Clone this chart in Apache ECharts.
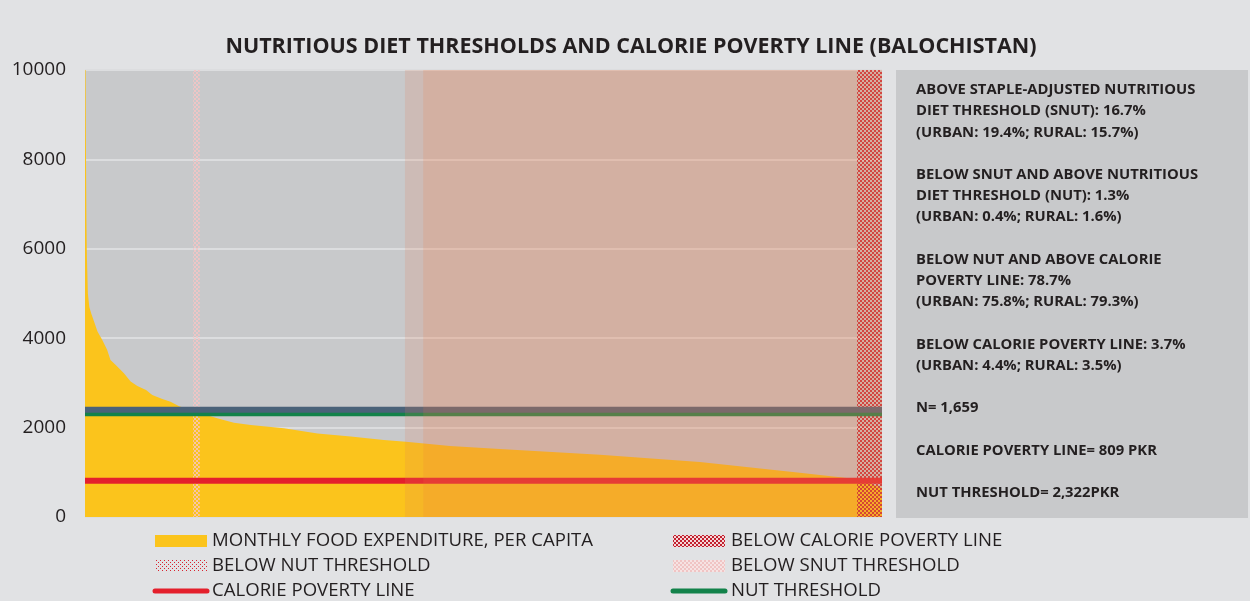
<!DOCTYPE html>
<html>
<head>
<meta charset="utf-8">
<script src="https://cdn.jsdelivr.net/npm/echarts@6/dist/echarts.min.js"></script>
<style>
  html, body { margin: 0; padding: 0; background: #e1e2e4; }
  #chart { width: 1250px; height: 601px; }
</style>
</head>
<body>
<div id="chart"></div>
<script>
// Households ranked by monthly food expenditure per capita (PKR), highest first
const householdRank = [0, 1, 2, 3, 4, 6, 9, 13, 19, 26, 36, 46, 53, 64, 81, 95, 109, 127, 140, 161, 178, 196, 230, 275, 310, 345, 414, 484, 553, 622, 668, 760, 864, 1072, 1280, 1488, 1530, 1572, 1603, 1612, 1630, 1659];
const foodExpenditure = [13000, 10500, 8200, 6600, 5800, 5000, 4700, 4550, 4370, 4150, 3960, 3740, 3510, 3400, 3215, 3030, 2930, 2840, 2730, 2640, 2580, 2480, 2360, 2210, 2110, 2060, 1985, 1870, 1800, 1720, 1685, 1590, 1520, 1390, 1230, 990, 940, 890, 850, 800, 760, 650];

const sampleSize = 1659;
const yTicks = [0, 2000, 4000, 6000, 8000, 10000];

// Thresholds (PKR per capita per month)
const caloriePovertyLine = 809;
const nutThreshold = 2322;
const snutThreshold = 2400;

// Household rank ranges for shaded groups
const belowSnutBand = [225, 239];
const belowNutBandOuter = [666, 1659];
const belowNutBandInner = [704, 1659];
const belowCalorieBand = [1607, 1659];

const infoText = [
  'ABOVE STAPLE-ADJUSTED NUTRITIOUS',
  'DIET THRESHOLD (SNUT): 16.7%',
  '(URBAN: 19.4%; RURAL: 15.7%)',
  '',
  'BELOW SNUT AND ABOVE NUTRITIOUS',
  'DIET THRESHOLD (NUT): 1.3%',
  '(URBAN: 0.4%; RURAL: 1.6%)',
  '',
  'BELOW NUT AND ABOVE CALORIE',
  'POVERTY LINE: 78.7%',
  '(URBAN: 75.8%; RURAL: 79.3%)',
  '',
  'BELOW CALORIE POVERTY LINE: 3.7%',
  '(URBAN: 4.4%; RURAL: 3.5%)',
  '',
  'N= 1,659',
  '',
  'CALORIE POVERTY LINE= 809 PKR',
  '',
  'NUT THRESHOLD= 2,322PKR'
];

const legendNames = [
  'MONTHLY FOOD EXPENDITURE, PER CAPITA',
  'BELOW NUT THRESHOLD',
  'CALORIE POVERTY LINE',
  'BELOW CALORIE POVERTY LINE',
  'BELOW SNUT THRESHOLD',
  'NUT THRESHOLD'
];

const FONT = '"Open Sans", sans-serif';
const INK = '#231f20';

// Small tiled canvases used as fill patterns
function makePattern(size, draw) {
  const c = document.createElement('canvas');
  c.width = size[0]; c.height = size[1];
  const ctx = c.getContext('2d');
  draw(ctx);
  return { image: c, repeat: 'repeat' };
}
const redChecker = makePattern([4, 4], ctx => {
  ctx.fillStyle = 'rgba(200,30,45,0.9)';
  ctx.fillRect(0, 0, 2, 2);
  ctx.fillRect(2, 2, 2, 2);
});
const redCheckerSolid = makePattern([4, 4], ctx => {
  ctx.fillStyle = '#f3d7d8';
  ctx.fillRect(0, 0, 4, 4);
  ctx.fillStyle = '#c2202f';
  ctx.fillRect(0, 0, 2, 2);
  ctx.fillRect(2, 2, 2, 2);
});
const pinkChecker = makePattern([4, 4], ctx => {
  ctx.fillStyle = 'rgba(246,196,196,0.85)';
  ctx.fillRect(0, 0, 2, 2);
  ctx.fillRect(2, 2, 2, 2);
});
const pinkCheckerSolid = makePattern([4, 4], ctx => {
  ctx.fillStyle = '#f6e3e3';
  ctx.fillRect(0, 0, 4, 4);
  ctx.fillStyle = '#f0c4c4';
  ctx.fillRect(0, 0, 2, 2);
  ctx.fillRect(2, 2, 2, 2);
});
const redDots = makePattern([4, 4], ctx => {
  ctx.fillStyle = '#d8232f';
  ctx.fillRect(0, 0, 1, 1);
  ctx.fillRect(2, 2, 1, 1);
});

function band(range, fill, z) {
  return {
    type: 'custom',
    z: z,
    silent: true,
    data: [range],
    encode: { x: [0, 1] },
    renderItem: function (params, api) {
      const p0 = api.coord([api.value(0), yTicks[yTicks.length - 1]]);
      const p1 = api.coord([api.value(1), 0]);
      return {
        type: 'rect',
        shape: { x: p0[0], y: p0[1], width: p1[0] - p0[0], height: p1[1] - p0[1] },
        style: { fill: fill }
      };
    }
  };
}

function hLine(value, color, z) {
  return {
    type: 'line',
    z: z,
    silent: true,
    symbol: 'none',
    data: [[0, value], [sampleSize, value]],
    lineStyle: { color: color, width: 6 }
  };
}

const expenditureData = householdRank.map((r, i) => [r, foodExpenditure[i]]);

// Legend swatches and labels
const legendGraphics = [];
const legendRowsY = [541, 566, 591];
const legendCols = [{ sx: 155, tx: 212 }, { sx: 673, tx: 731 }];
const swatchFills = [
  { kind: 'rect', fill: '#fbc41c' },
  { kind: 'rect', fill: redDots },
  { kind: 'line', stroke: '#e4202c' },
  { kind: 'rect', fill: redCheckerSolid },
  { kind: 'rect', fill: pinkCheckerSolid },
  { kind: 'line', stroke: '#13824a' }
];
legendNames.forEach((name, i) => {
  const col = legendCols[Math.floor(i / 3)];
  const y = legendRowsY[i % 3];
  const sw = swatchFills[i];
  if (sw.kind === 'rect') {
    legendGraphics.push({
      type: 'rect', shape: { x: col.sx, y: y - 6, width: 52, height: 12 },
      style: { fill: sw.fill }
    });
  } else {
    legendGraphics.push({
      type: 'line', shape: { x1: col.sx, y1: y, x2: col.sx + 52, y2: y },
      style: { stroke: sw.stroke, lineWidth: 5, lineCap: 'round' }
    });
  }
  legendGraphics.push({
    type: 'text', x: col.tx, y: y,
    style: { text: name, fill: INK, font: '18.6px ' + FONT, textVerticalAlign: 'middle' }
  });
});

const chart = echarts.init(document.getElementById('chart'), null, { renderer: 'canvas' });
chart.setOption({
  backgroundColor: '#e1e2e4',
  animation: false,
  grid: {
    left: 85, right: 368, top: 70, bottom: 84,
    show: true, backgroundColor: '#c8c9cb', borderWidth: 0
  },
  xAxis: {
    type: 'value', min: 0, max: sampleSize,
    axisLine: { show: false }, axisTick: { show: false },
    axisLabel: { show: false }, splitLine: { show: false }
  },
  yAxis: {
    type: 'value', min: yTicks[0], max: yTicks[yTicks.length - 1], interval: 2000,
    axisLine: { show: false }, axisTick: { show: false },
    axisLabel: {
      color: INK, fontSize: 19, fontFamily: FONT, margin: 19,
      formatter: v => String(v)
    },
    splitLine: { lineStyle: { color: '#dcdddf', width: 2 } }
  },
  series: [
    {
      name: legendNames[0],
      type: 'line',
      z: 1,
      silent: true,
      symbol: 'none',
      data: expenditureData,
      lineStyle: { width: 0 },
      areaStyle: { color: '#fbc41c', opacity: 1 }
    },
    band(belowSnutBand, pinkChecker, 2),
    band(belowCalorieBand, redChecker, 2),
    hLine(nutThreshold, '#13824a', 3),
    hLine(snutThreshold, '#4a6279', 3),
    hLine(caloriePovertyLine, '#e4202c', 3),
    band(belowNutBandOuter, 'rgba(230,130,90,0.18)', 4),
    band(belowNutBandInner, 'rgba(240,120,60,0.16)', 4)
  ],
  graphic: [
    {
      type: 'text', x: 631, y: 47,
      style: {
        text: 'NUTRITIOUS DIET THRESHOLDS AND CALORIE POVERTY LINE (BALOCHISTAN)',
        fill: INK, font: 'bold 21.5px ' + FONT, textAlign: 'center', textVerticalAlign: 'middle'
      }
    },
    {
      type: 'rect', shape: { x: 896, y: 70, width: 352, height: 448 },
      style: { fill: '#c8c9cb' }
    },
    {
      type: 'text', x: 916, y: 79.4,
      style: {
        text: infoText.join('\n'), fill: INK, font: 'bold 14.8px ' + FONT,
        lineHeight: 21.2, textVerticalAlign: 'top'
      }
    }
  ].concat(legendGraphics)
});
</script>
</body>
</html>
